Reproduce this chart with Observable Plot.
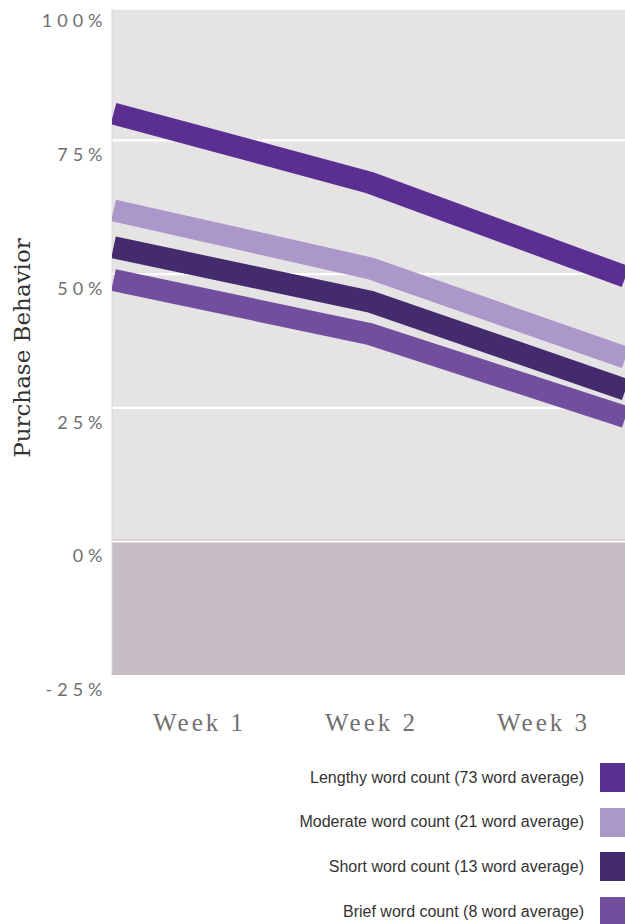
<!DOCTYPE html>
<html>
<head>
<meta charset="utf-8">
<script src="https://cdn.jsdelivr.net/npm/d3@7"></script>
<script src="https://cdn.jsdelivr.net/npm/@observablehq/plot@0.6"></script>
<style>
  html, body { margin: 0; padding: 0; background: #fff; }
  #wrap { width: 625px; overflow: hidden; }
  #main g[aria-label="y-axis tick label"] { letter-spacing: 5px; }
  #xlab g[aria-label="x-axis tick label"] { letter-spacing: 3px; }
  #legend { width: 625px; padding-top: 17px; font-family: "Liberation Sans", Arial, sans-serif; font-size: 16px; color: #333; }
  .row { display: flex; justify-content: flex-end; align-items: center; height: 29px; margin-bottom: 15.7px; }
  .row span { margin-right: 16px; }
  .sw { width: 25px; height: 29px; }
</style>
</head>
<body>
<div id="wrap">
  <div id="main"></div>
  <div id="xlab"></div>
  <div id="legend"></div>
</div>
<script>
// ---- data ----
const weeks = ["Week 1", "Week 2", "Week 3"];
const series = [
  "Lengthy word count (73 word average)",
  "Moderate word count (21 word average)",
  "Short word count (13 word average)",
  "Brief word count (8 word average)"
];
const lengthy  = [80.0, 67.1, 49.5];
const moderate = [61.9, 51.1, 34.4];
const short    = [55.0, 44.9, 28.4];
const brief    = [48.9, 38.8, 23.3];
const seriesValues = [lengthy, moderate, short, brief];
const colors = ["#5b2e91", "#ab97c9", "#432b6d", "#724f9e"];
const yTicks = [-25, 0, 25, 50, 75, 100];
const gridTicks = [25, 50, 75];
const yTitle = "Purchase Behavior";
const yDomain = [-25, 100];
const plotTop = 99.3;           // top of the shaded plot area
const negBand = [{lo: -25, hi: 0}];
const posBand = [{lo: 0, hi: plotTop}];

const rows = series.flatMap((s, i) => weeks.map((w, j) => ({series: s, week: w, value: seriesValues[i][j]})));

// ---- main plot ----
const main = Plot.plot({
  width: 625,
  height: 701,
  marginLeft: 112,
  marginRight: 0,
  marginTop: 6,
  marginBottom: 26,
  style: {fontFamily: "Lato, sans-serif", background: "white"},
  x: {type: "point", domain: weeks, padding: 0, axis: null},
  y: {domain: yDomain, axis: null},
  color: {domain: series, range: colors},
  marks: [
    Plot.rect(posBand, {y1: "lo", y2: "hi", fill: "#e6e3e5"}),
    Plot.rect(negBand, {y1: "lo", y2: "hi", fill: "#c7bdc5"}),
    Plot.ruleY(gridTicks, {stroke: "white", strokeWidth: 2.2}),
    Plot.ruleY([0], {stroke: "#c4bcc2", strokeWidth: 1, dy: -1.8}),
    Plot.ruleY([0], {stroke: "white", strokeWidth: 1.8}),
    Plot.ruleX([weeks[0]], {y1: -25.2, y2: plotTop, stroke: "#d9d6d8", strokeWidth: 1, dx: -1.5}),
    Plot.line(rows, {x: "week", y: "value", z: "series", stroke: "series", strokeWidth: 22,
      strokeLinecap: "butt", strokeLinejoin: "miter", clip: true}),
    Plot.axisY(yTicks, {tickSize: 0, tickPadding: 5, dy: 15, tickFormat: d => d + "%",
      fontSize: 18, fill: "#707070", label: null, fontFamily: "Lato, sans-serif"}),
    Plot.text([yTitle], {frameAnchor: "left", textAnchor: "middle", rotate: -90, dx: -90, dy: 7, fontSize: 23,
      fontFamily: "DejaVu Serif, serif", fill: "#333", text: d => d})
  ]
});
document.getElementById("main").appendChild(main);

// ---- x labels ----
const xlab = Plot.plot({
  width: 625,
  height: 45,
  marginLeft: 112,
  marginRight: -4,
  marginTop: 30,
  marginBottom: 15,
  x: {type: "point", domain: weeks, padding: 0.5},
  y: {axis: null},
  marks: [
    Plot.axisX({anchor: "top", tickSize: 0, tickPadding: 1, label: null, fontSize: 25,
      fontFamily: "Liberation Serif, serif", fill: "#707070"})
  ]
});
document.getElementById("xlab").appendChild(xlab);

// ---- legend ----
const legend = document.getElementById("legend");
series.forEach((s, i) => {
  const row = document.createElement("div");
  row.className = "row";
  const t = document.createElement("span");
  t.textContent = s;
  const sw = document.createElement("div");
  sw.className = "sw";
  sw.style.background = colors[i];
  row.appendChild(t);
  row.appendChild(sw);
  legend.appendChild(row);
});
</script>
</body>
</html>
